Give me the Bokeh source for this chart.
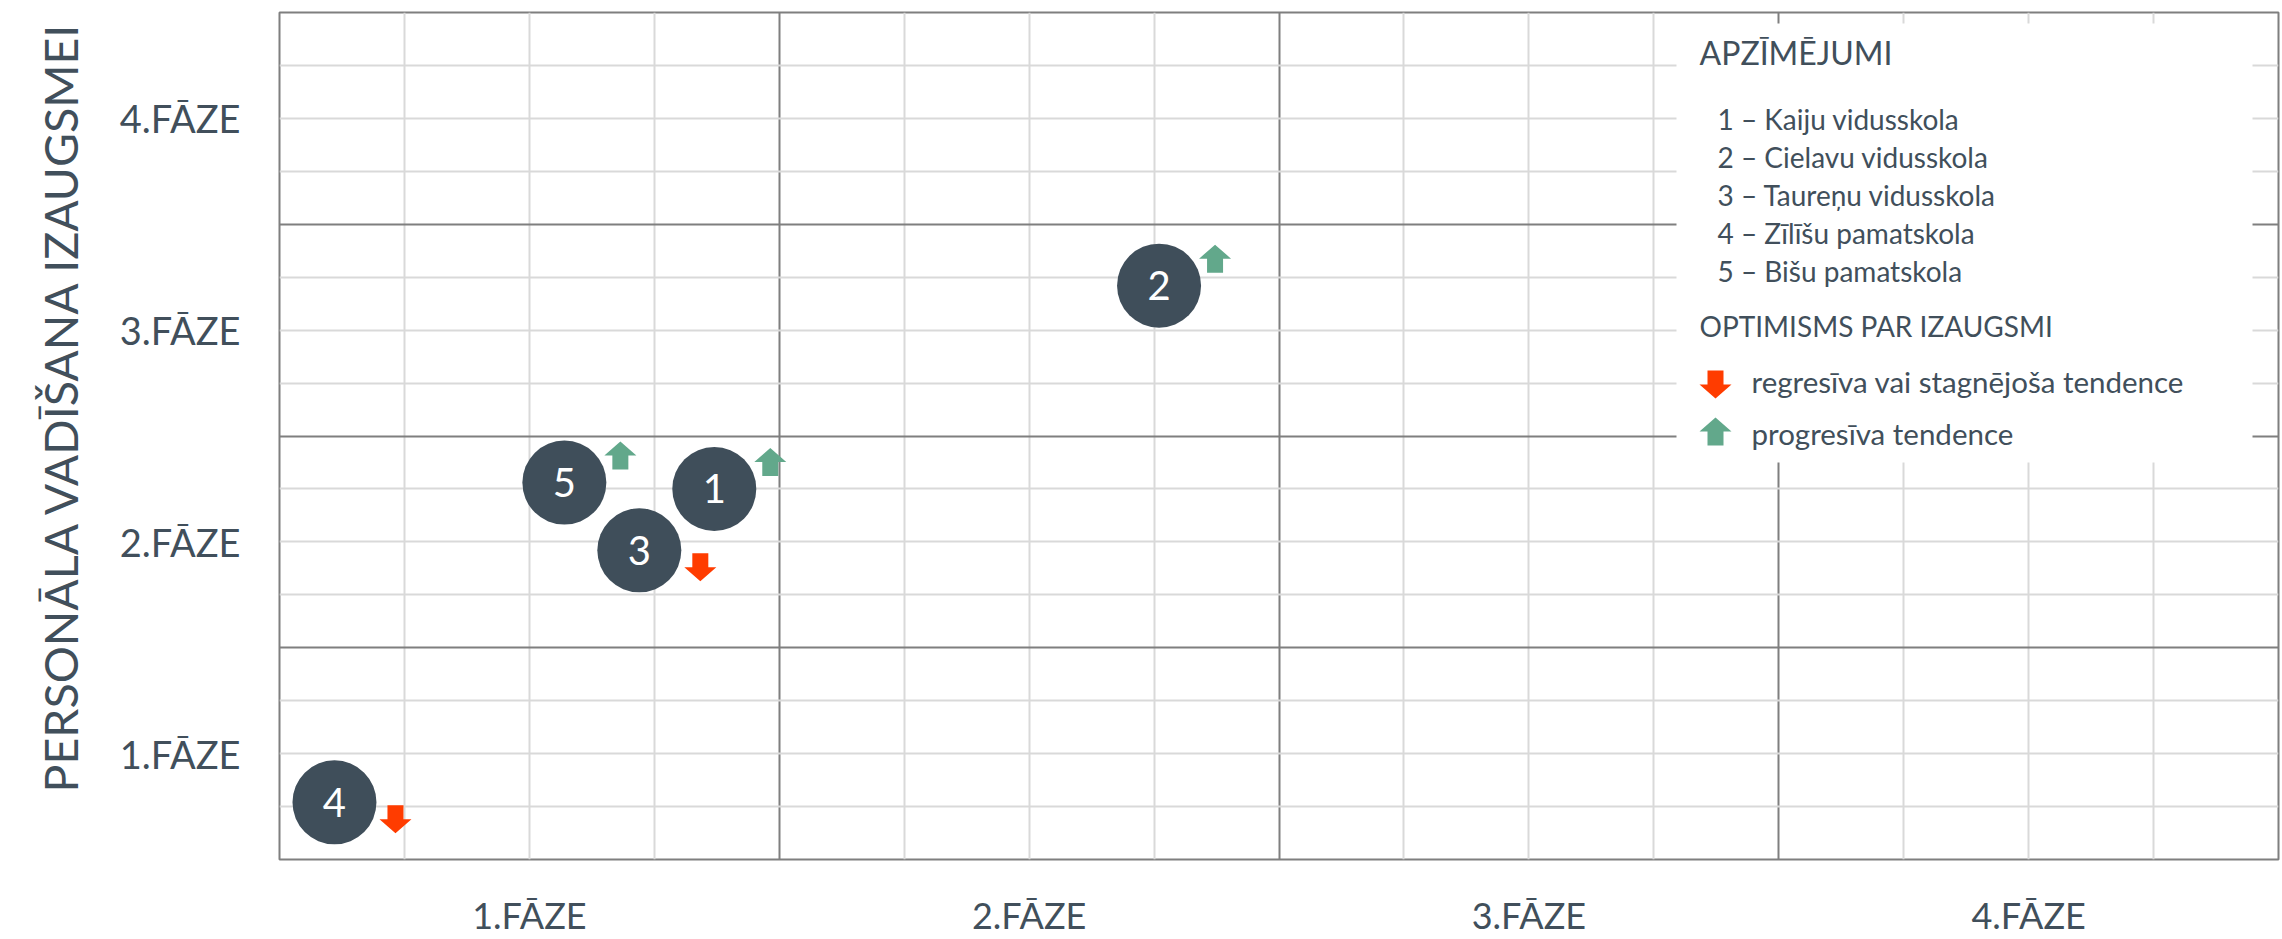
import numpy as np
from bokeh.plotting import figure
from bokeh.models import FixedTicker, Label, BoxAnnotation, ColumnDataSource, Title
from bokeh.core.properties import value
from bokeh.embed import file_html
from bokeh.resources import INLINE

# ---------------- data ----------------
school_ids = ["1", "2", "3", "4", "5"]
school_names = ["Kaiju vidusskola", "Cielavu vidusskola", "Taureņu vidusskola",
                "Zīlīšu pamatskola", "Bišu pamatskola"]
phase_x = [1.37, 2.26, 1.22, 0.61, 1.07]      # horizontal phase
growth_y = [2.25, 3.21, 1.96, 0.77, 2.28]     # personāla vadīšana izaugsmei
trend = ["up", "up", "down", "down", "up"]    # optimisms par izaugsmi
phase_ticks = [1, 2, 3, 4]
phase_labels = ["1.FĀZE", "2.FĀZE", "3.FĀZE", "4.FĀZE"]
y_title = "PERSONĀLA VADĪŠANA IZAUGSMEI"
legend_title = "APZĪMĒJUMI"
trend_title = "OPTIMISMS PAR IZAUGSMI"
trend_text = {"down": "regresīva vai stagnējoša tendence", "up": "progresīva tendence"}

# ---------------- style / layout ----------------
FONT = "Lato"
TEXT = "#414F5B"
DOT = "#3F4E5A"
RED = "#FF3C00"
GREEN = "#62A88B"
MAJOR = "#7F7F7F"
MINOR = "#D9D9D9"

W, H = 2282, 939
ML, MT, MR = 279, 12, 4
FW, FH = W - ML - MR, 847
MB = H - MT - FH
X0, X1, Y0, Y1 = 0.5, 4.5, 0.5, 4.5
UX = (X1 - X0) / FW     # data units per pixel
UY = (Y1 - Y0) / FH


def X(px):  # page pixel -> data x
    return X0 + (px - ML) * UX


def Y(py):  # page pixel -> data y
    return Y0 + (MT + FH - py) * UY


p = figure(width=W, height=H, x_range=(X0, X1), y_range=(Y0, Y1),
           output_backend="svg", toolbar_location=None,
           min_border_left=ML, min_border_right=MR, min_border_top=MT,
           min_border_bottom=MB)
p.background_fill_color = "white"
p.border_fill_color = "white"
p.outline_line_color = MAJOR
p.outline_line_width = 2

minor = [v for v in np.arange(0.75, 4.5, 0.25) if abs(v - round(v - 0.5) - 0.5) > 1e-6]
grid_ticker = FixedTicker(ticks=[1.5, 2.5, 3.5], minor_ticks=minor)
for g in (p.xgrid, p.ygrid):
    g.ticker = grid_ticker
    g.grid_line_color = MAJOR
    g.grid_line_width = 2
    g.minor_grid_line_color = MINOR
    g.minor_grid_line_width = 2

# axes
for ax, standoff, size in ((p.xaxis[0], 33, "36px"), (p.yaxis[0], 39, "38px")):
    ax.ticker = FixedTicker(ticks=phase_ticks)
    ax.major_label_overrides = {t: l for t, l in zip(phase_ticks, phase_labels)}
    ax.axis_line_color = None
    ax.major_tick_line_color = None
    ax.minor_tick_line_color = None
    ax.major_tick_out = 0
    ax.major_tick_in = 0
    ax.minor_tick_out = 0
    ax.minor_tick_in = 0
    ax.major_label_standoff = standoff
    ax.major_label_text_font = FONT
    ax.major_label_text_font_size = size
    ax.major_label_text_color = TEXT

# y title (left side, starting above the frame bottom)
p.add_layout(Title(text=y_title, align="left", offset=67, standoff=58,
                   text_font=FONT, text_font_size="46.5px", text_font_style="normal",
                   text_color=TEXT), "left")

# schools
src = ColumnDataSource(dict(x=phase_x, y=growth_y, id=school_ids))
p.scatter("x", "y", source=src, marker="circle", size=84, fill_color=DOT,
          line_color=None)
p.text("x", "y", text="id", source=src, text_align="center",
       text_baseline="middle", text_color="white",
       text_font=value(FONT), text_font_size="40px")

# trend arrows
UP = [(0, 14), (16, 0), (8, 0), (8, -14), (-8, -14), (-8, 0), (-16, 0)]


def arrow(cx, cy, d):
    s = 1 if d == "up" else -1
    return ([cx + ax * UX for ax, ay in UP], [cy + s * ay * UY for ax, ay in UP])


axs, ays, acol = [], [], []
for x, y, d in zip(phase_x, growth_y, trend):
    if d == "up":
        cx, cy = x + 56 * UX, y + 27 * UY
    else:
        cx, cy = x + 61 * UX, y - 17 * UY
    xs, ys = arrow(cx, cy, d)
    axs.append(xs); ays.append(ys); acol.append(GREEN if d == "up" else RED)
p.patches(axs, ays, fill_color=acol, line_color=None)

# legend box
p.add_layout(BoxAnnotation(left=X(1676), right=X(2252), top=Y(23), bottom=Y(462),
                           fill_color="white", fill_alpha=1.0, line_color=None))

p.add_layout(Label(x=X(1699), y=Y(52), text=legend_title, text_align="left",
                   text_baseline="alphabetic", text_font=FONT,
                   text_font_size="32px", text_color=TEXT))
for i, (sid, name) in enumerate(zip(school_ids, school_names)):
    p.add_layout(Label(x=X(1717), y=Y(118 + 38.2 * i), text=f"{sid} – {name}",
                       text_align="left", text_baseline="alphabetic",
                       text_font=FONT, text_font_size="28px", text_color=TEXT))
p.add_layout(Label(x=X(1699), y=Y(325), text=trend_title, text_align="left",
                   text_baseline="alphabetic", text_font=FONT,
                   text_font_size="28px", text_color=TEXT))

lxs, lys, lcol = [], [], []
for d, cy_px, base_px in (("down", 384, 381), ("up", 431, 433)):
    xs, ys = arrow(X(1715), Y(cy_px), d)
    lxs.append(xs); lys.append(ys); lcol.append(GREEN if d == "up" else RED)
    p.add_layout(Label(x=X(1751), y=Y(base_px), text=trend_text[d],
                       text_align="left", text_baseline="alphabetic",
                       text_font=FONT, text_font_size="29.5px", text_color=TEXT))
p.patches(lxs, lys, fill_color=lcol, line_color=None, level="overlay")

open("out.html", "w").write(file_html(p, INLINE))
